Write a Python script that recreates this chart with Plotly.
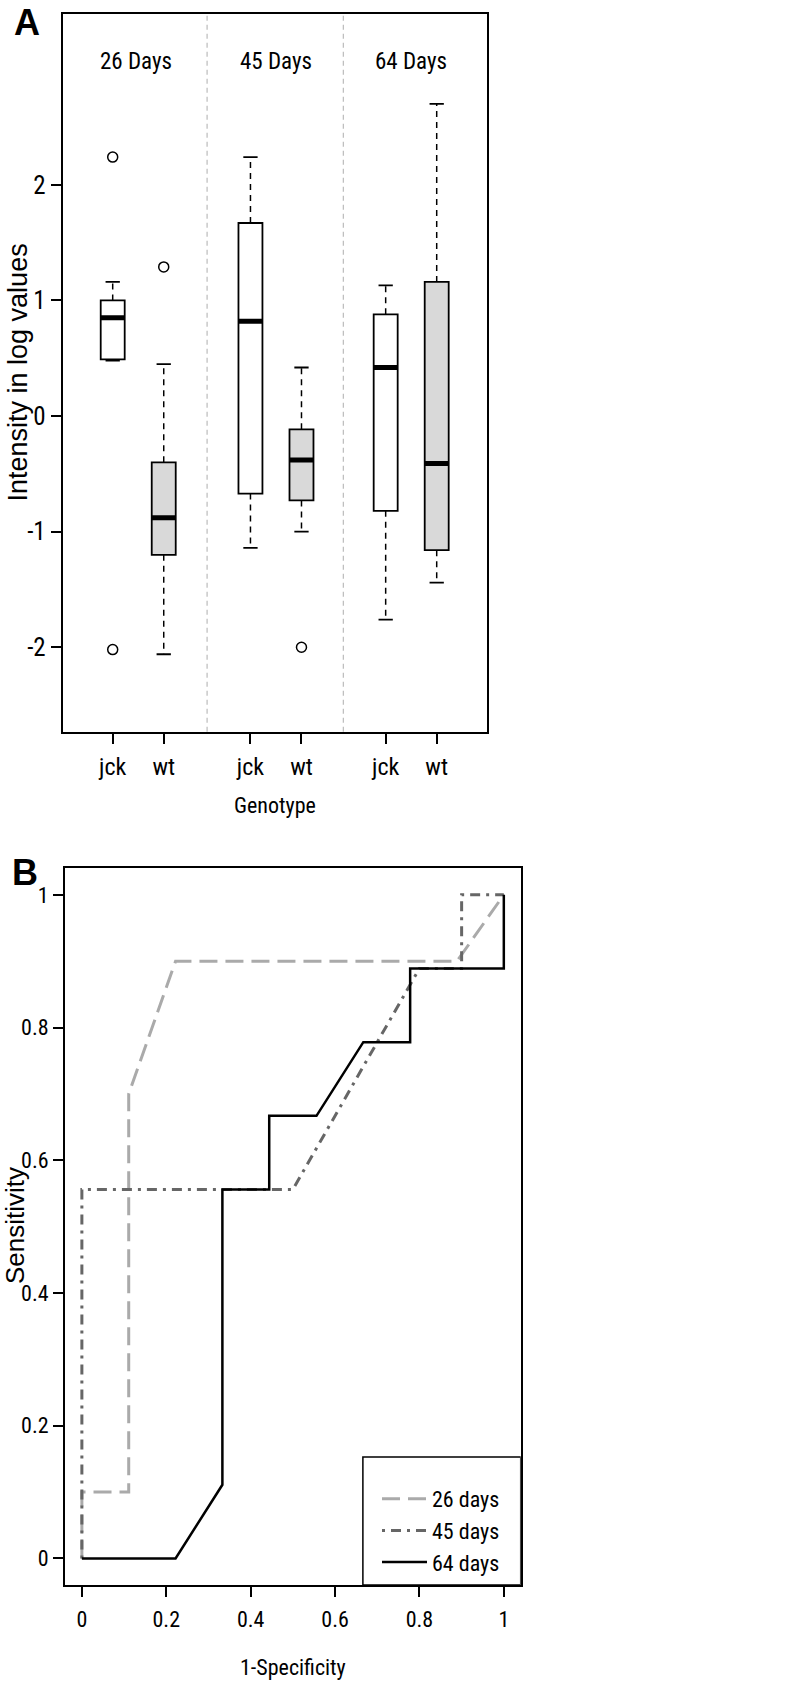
import plotly.graph_objects as go

# ---------------- Panel A data (box plot statistics) ----------------
group_labels = ["26 Days", "45 Days", "64 Days"]
group_centers = [1.45, 4.2, 6.85]
separators = [2.85, 5.52]
genotype_labels = ["jck", "wt", "jck", "wt", "jck", "wt"]
box_positions = [1, 2, 3.7, 4.7, 6.35, 7.35]
box_fill = ["white", "#d9d9d9", "white", "#d9d9d9", "white", "#d9d9d9"]
q1 = [0.49, -1.20, -0.67, -0.73, -0.82, -1.16]
median = [0.85, -0.88, 0.82, -0.38, 0.42, -0.41]
q3 = [1.00, -0.40, 1.67, -0.115, 0.88, 1.16]
whisker_low = [0.48, -2.06, -1.14, -1.00, -1.76, -1.44]
whisker_high = [1.16, 0.45, 2.24, 0.42, 1.13, 2.70]
outlier_x = [1, 1, 2, 4.7]
outlier_y = [2.24, -2.02, 1.29, -2.00]
yticks_a = [-2, -1, 0, 1, 2]

# ---------------- Panel B data (ROC curves) ----------------
roc_names = ["26 days", "45 days", "64 days"]
fpr_26 = [0, 0, 0.111, 0.111, 0.222, 0.889, 1]
tpr_26 = [0, 0.1, 0.1, 0.7, 0.9, 0.9, 1]
fpr_45 = [0, 0, 0.5, 0.8, 0.9, 0.9, 1]
tpr_45 = [0, 0.556, 0.556, 0.889, 0.889, 1, 1]
fpr_64 = [0, 0.222, 0.333, 0.333, 0.444, 0.444, 0.556, 0.667, 0.778, 0.778, 1, 1]
tpr_64 = [0, 0, 0.111, 0.556, 0.556, 0.667, 0.667, 0.778, 0.778, 0.889, 0.889, 1]
ticks_b = [0, 0.2, 0.4, 0.6, 0.8, 1]
ticktext_b = ["0", "0.2", "0.4", "0.6", "0.8", "1"]

NARROW = "Roboto Condensed, DejaVu Sans Condensed, Liberation Sans Narrow, Liberation Sans, Arial, sans-serif"
REG = "Liberation Sans, Arial, sans-serif"

W, H = 801, 1683
BOXW = 0.47
CAPW = 0.28

fig = go.Figure()

# boxes
for i, x in enumerate(box_positions):
    fig.add_trace(go.Box(
        x=[x], q1=[q1[i]], median=[median[i]], q3=[q3[i]],
        lowerfence=[q1[i]], upperfence=[q3[i]],
        width=BOXW, whiskerwidth=0, fillcolor=box_fill[i],
        line=dict(color="black", width=1.8), boxpoints=False,
        showlegend=False, hoverinfo="skip", xaxis="x", yaxis="y"))

# dashed whiskers
wx, wy = [], []
for i, x in enumerate(box_positions):
    wx += [x, x, None, x, x, None]
    wy += [q3[i], whisker_high[i], None, q1[i], whisker_low[i], None]
fig.add_trace(go.Scatter(x=wx, y=wy, mode="lines",
                         line=dict(color="black", width=1.5, dash="6px,5px"),
                         showlegend=False, hoverinfo="skip", xaxis="x", yaxis="y"))
# caps
cx, cy = [], []
for i, x in enumerate(box_positions):
    for v in (whisker_high[i], whisker_low[i]):
        cx += [x - CAPW / 2, x + CAPW / 2, None]
        cy += [v, v, None]
fig.add_trace(go.Scatter(x=cx, y=cy, mode="lines",
                         line=dict(color="black", width=1.8),
                         showlegend=False, hoverinfo="skip", xaxis="x", yaxis="y"))
# medians
mx, my = [], []
for i, x in enumerate(box_positions):
    mx += [x - BOXW / 2, x + BOXW / 2, None]
    my += [median[i], median[i], None]
fig.add_trace(go.Scatter(x=mx, y=my, mode="lines",
                         line=dict(color="black", width=5),
                         showlegend=False, hoverinfo="skip", xaxis="x", yaxis="y"))
# outliers
fig.add_trace(go.Scatter(x=outlier_x, y=outlier_y, mode="markers",
                         marker=dict(symbol="circle-open", size=10, color="black",
                                     line=dict(width=1.5, color="black")),
                         showlegend=False, hoverinfo="skip", xaxis="x", yaxis="y"))

# ROC curves
fig.add_trace(go.Scatter(x=fpr_26, y=tpr_26, mode="lines", name=roc_names[0],
                         line=dict(color="#aaaaaa", width=3, dash="18px,8px"),
                         xaxis="x2", yaxis="y2"))
fig.add_trace(go.Scatter(x=fpr_45, y=tpr_45, mode="lines", name=roc_names[1],
                         line=dict(color="#666666", width=3, dash="3px,6px,10px,6px"),
                         xaxis="x2", yaxis="y2"))
fig.add_trace(go.Scatter(x=fpr_64, y=tpr_64, mode="lines", name=roc_names[2],
                         line=dict(color="black", width=2.5),
                         xaxis="x2", yaxis="y2"))

# separators in panel A
for s in separators:
    fig.add_shape(type="line", xref="x", yref="y domain", x0=s, x1=s, y0=0, y1=1,
                  line=dict(color="#bbbbbb", width=1.2, dash="5px,4px"), layer="below")

# legend frame
fig.add_shape(type="rect", xref="x2", yref="y2", x0=0.666, x1=1.04, y0=-0.04, y1=0.153,
              line=dict(color="black", width=1.5), fillcolor="white", layer="below")

# group labels
for g, c in zip(group_labels, group_centers):
    fig.add_annotation(x=c, y=3.065, xref="x", yref="y", text=g, showarrow=False,
                       xanchor="center", yanchor="middle",
                       font=dict(family=NARROW, size=23, color="black"))

def label(text, px, py, size, family, angle=0, yanchor="middle"):
    fig.add_annotation(x=px / W, y=1 - py / H, xref="paper", yref="paper", text=text,
                       showarrow=False, xanchor="center", yanchor=yanchor, textangle=angle,
                       font=dict(family=family, size=size, color="black"))

# panel letters
label("<b>A</b>", 27, 0, 36, REG, yanchor="top")
label("<b>B</b>", 25, 872, 36, REG)
# axis titles
label("Intensity in log values", 17, 372.5, 27, REG, -90)
label("Genotype", 274.7, 805, 22, NARROW)
label("Sensitivity", 15, 1226, 26, REG, -90)
label("1-Specificity", 292.9, 1667, 22, NARROW)

axis_common = dict(showline=True, linecolor="black", linewidth=2, mirror=True,
                   ticks="outside", ticklen=10, tickwidth=1.5, tickcolor="black",
                   showgrid=False, zeroline=False, automargin=False)

fig.update_layout(
    width=W, height=H, margin=dict(l=0, r=0, t=0, b=0),
    paper_bgcolor="white", plot_bgcolor="white",
    boxmode="overlay",
    font=dict(family=NARROW, color="black"),
    xaxis=dict(domain=[62.7 / W, 486.7 / W], range=[0.02, 8.33],
               tickvals=box_positions, ticktext=genotype_labels,
               tickfont=dict(family=NARROW, size=24), ticklabelstandoff=2,
               anchor="y", **axis_common),
    yaxis=dict(domain=[1 - 731.7 / H, 1 - 14.3 / H], range=[-2.73, 3.475],
               tickvals=yticks_a, ticktext=[str(v) for v in yticks_a],
               tickfont=dict(family=NARROW, size=25),
               anchor="x", **axis_common),
    xaxis2=dict(domain=[65 / W, 520.7 / W], range=[-0.04, 1.04],
                tickvals=ticks_b, ticktext=ticktext_b,
                tickfont=dict(family=NARROW, size=22), ticklabelstandoff=4,
                anchor="y2", **axis_common),
    yaxis2=dict(domain=[1 - 1585 / H, 1 - 868.3 / H], range=[-0.04, 1.04],
                tickvals=ticks_b, ticktext=ticktext_b,
                tickfont=dict(family=NARROW, size=22),
                anchor="x2", **axis_common),
    legend=dict(x=377 / W, y=1 - 1478 / H, xanchor="left", yanchor="top",
                bgcolor="rgba(0,0,0,0)", borderwidth=0, itemwidth=45,
                font=dict(family=NARROW, size=22, color="black"), tracegroupgap=0),
    showlegend=True,
)

fig.write_html("out.html", config={"displayModeBar": False},
               post_script="document.body.style.margin='0px';document.body.style.padding='0px';")
